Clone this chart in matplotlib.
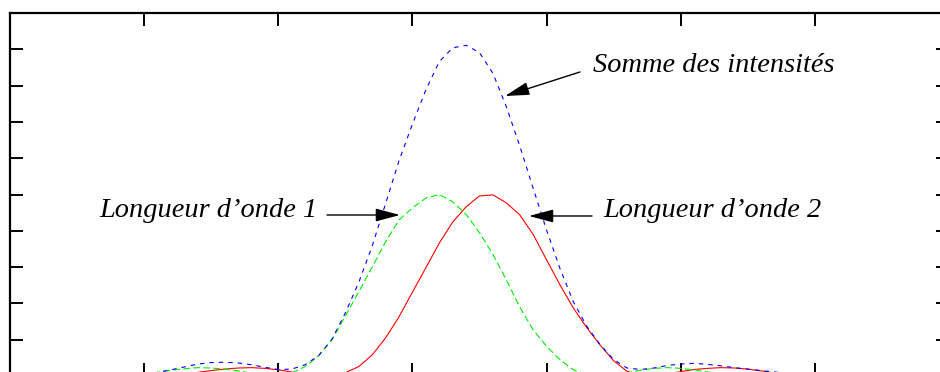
import matplotlib
matplotlib.use("Agg")
import matplotlib.pyplot as plt
import numpy as np

# x sampled every 0.1 from 0 to 7
x = np.arange(71) * 0.1

green = [0.003, 0.004, 0.004, 0.004, 0.003, 0.002, 0.001, 0.000, 0.000, 0.001,
         0.004, 0.010, 0.016, 0.020, 0.023, 0.022, 0.019, 0.014, 0.008, 0.003,
         0.001, 0.008, 0.026, 0.055, 0.100, 0.165, 0.232, 0.300, 0.370, 0.430,
         0.463, 0.490, 0.500, 0.480, 0.445, 0.395, 0.335, 0.265, 0.190, 0.127,
         0.082, 0.045, 0.017, 0.004, 0.001, 0.003, 0.009, 0.016, 0.021, 0.023,
         0.021, 0.017, 0.011, 0.005, 0.001, 0.000, 0.001, 0.003, 0.004, 0.004,
         0.004, 0.003, 0.002, 0.001, 0.000, 0.001, 0.001, 0.002, 0.002, 0.002,
         0.001]

red = [0.000, 0.001, 0.001, 0.002, 0.003, 0.004, 0.004, 0.003, 0.002, 0.001,
       0.000, 0.000, 0.001, 0.005, 0.010, 0.015, 0.019, 0.022, 0.023, 0.021,
       0.017, 0.011, 0.005, 0.001, 0.001, 0.009, 0.026, 0.058, 0.105, 0.163,
       0.231, 0.298, 0.366, 0.424, 0.466, 0.496, 0.499, 0.477, 0.444, 0.390,
       0.320, 0.251, 0.187, 0.133, 0.085, 0.042, 0.013, 0.002, 0.001, 0.006,
       0.012, 0.018, 0.021, 0.023, 0.022, 0.019, 0.014, 0.008, 0.003, 0.000,
       0.000, 0.001, 0.002, 0.003, 0.004, 0.004, 0.003, 0.002, 0.001, 0.001,
       0.000]

somme = np.array(green) + np.array(red)

fig = plt.figure(figsize=(9.4, 3.72), dpi=100)
ax = fig.add_axes([10 / 940, -4 / 372, 939 / 940, 363 / 372])

ax.plot(x, red, color="#ff0000", lw=0.8)
ax.plot(x, green, color="#00ee00", lw=0.8, dashes=(6, 3))
ax.plot(x, somme, color="#0000ff", lw=0.8, dashes=(4, 4.5))

ax.set_xlim(0, 7)
ax.set_ylim(0, 1)
ax.set_xticks(np.arange(1, 7))
ax.set_yticks(np.arange(1, 10) * 0.1)
ax.tick_params(direction="in", length=9.5, width=1.4, top=True, right=True,
               labelbottom=False, labelleft=False)
for s in ax.spines.values():
    s.set_linewidth(1.6)

font = dict(family="Liberation Serif", style="italic", fontsize=20.4)
ax.text(0.663, 0.437, "Longueur d\u2019onde 1", ha="left", va="baseline", **font)
ax.text(4.421, 0.437, "Longueur d\u2019onde 2", ha="left", va="baseline", **font)
ax.text(4.346, 0.838, "Somme des intensités", ha="left", va="baseline", **font)

arrow = dict(arrowstyle="-|>,head_length=1.5,head_width=0.4", color="black",
             lw=1, shrinkA=0, shrinkB=0, mutation_scale=10)
ax.annotate("", xy=(2.907, 0.4435), xytext=(2.363, 0.4435), arrowprops=arrow)
ax.annotate("", xy=(3.869, 0.4408), xytext=(4.339, 0.4408), arrowprops=arrow)
ax.annotate("", xy=(3.690, 0.7713), xytext=(4.249, 0.8375), arrowprops=arrow)

fig.savefig("out.png", dpi=100)
